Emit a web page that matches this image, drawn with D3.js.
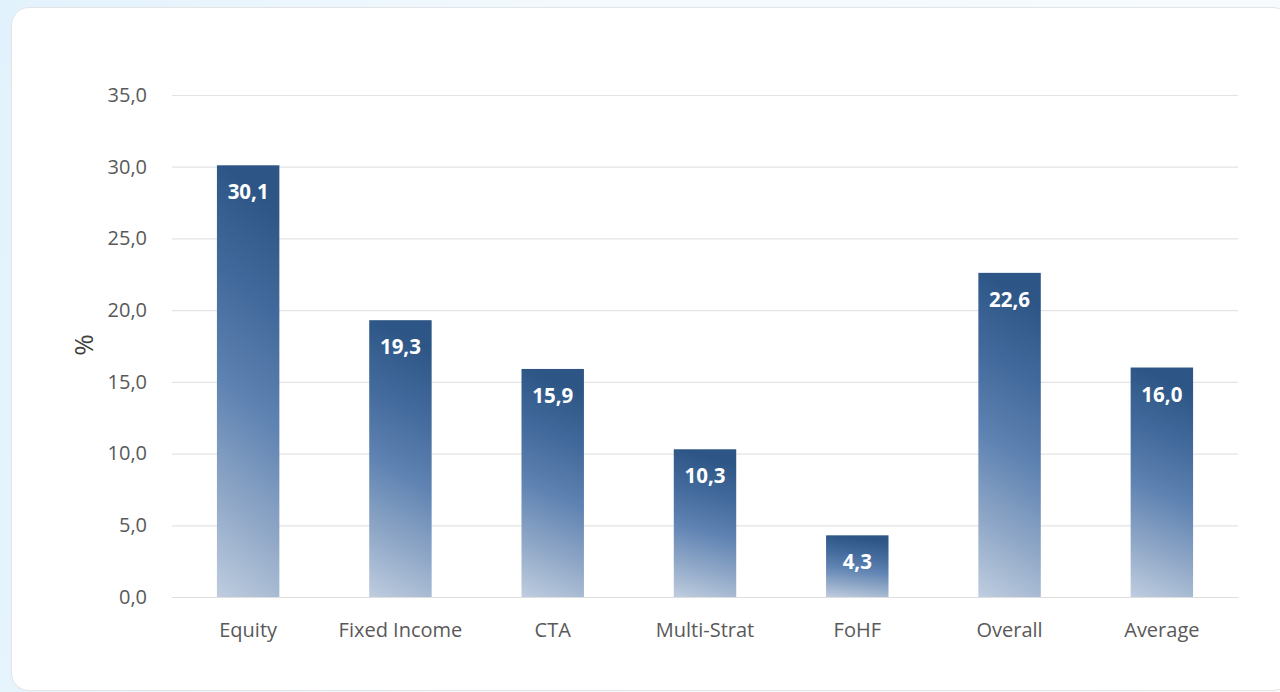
<!DOCTYPE html>
<html>
<head>
<meta charset="utf-8">
<script src="https://cdn.jsdelivr.net/npm/d3@7"></script>
<style>
  html, body { margin: 0; padding: 0; }
  body {
    width: 1280px; height: 692px; overflow: hidden;
    background: linear-gradient(100deg, #e2f2fc 0%, #f3f9fd 40%, #f7fbfe 100%);
  }
  #card {
    position: absolute; left: 11px; top: 7px; width: 1280px; height: 684px;
    background: #fff; border: 1px solid #e2e4e6; border-radius: 18px;
    box-sizing: border-box;
  }
  svg { position: absolute; left: 0; top: 0; }
</style>
</head>
<body>
<div id="card"></div>
<svg id="chart" width="1280" height="692"></svg>
<script>
const categories = ['Equity', 'Fixed Income', 'CTA', 'Multi-Strat', 'FoHF', 'Overall', 'Average'];
const values     = [30.1, 19.3, 15.9, 10.3, 4.3, 22.6, 16.0];
const yTicks     = [0, 5, 10, 15, 20, 25, 30, 35];

const svg = d3.select('#chart');
const fmt = v => d3.format('.1f')(v).replace('.', ',');
const FONT = '"Open Sans", sans-serif';

// ── Scales ──────────────────────────────────────────────────────────────
const x = d3.scaleBand().domain(categories).range([172, 1238])
  .paddingInner(0.59).paddingOuter(0.295);
const y = d3.scaleLinear().domain([0, 35]).range([597, 95]);

// ── Gradient (dark top, light bottom-left) ──────────────────────────────
const grad = svg.append('defs').append('linearGradient')
  .attr('id', 'barGrad').attr('x1', 0).attr('y1', 1).attr('x2', 0.12).attr('y2', 0);
[[0, '#bfcddf'], [0.22, '#94abc9'], [0.5, '#5f83b2'], [0.75, '#436a9c'], [1, '#2d5686']]
  .forEach(([o, c]) => grad.append('stop').attr('offset', o).attr('stop-color', c));

// ── Grid + y axis ───────────────────────────────────────────────────────
const yAxis = svg.append('g').attr('transform', 'translate(172,0)')
  .call(d3.axisLeft(y).tickValues(yTicks).tickFormat(fmt).tickSize(-1066).tickPadding(25));
yAxis.select('.domain').remove();
yAxis.selectAll('.tick line').attr('stroke', '#e3e3e3').attr('stroke-width', 1.2);
yAxis.selectAll('.tick text')
  .attr('fill', '#595959').style('font-family', FONT).style('font-size', '20px');

svg.append('text')
  .attr('transform', 'translate(93,345) rotate(-90)')
  .attr('text-anchor', 'middle')
  .attr('fill', '#404040')
  .style('font-family', FONT).style('font-size', '26px')
  .text('%');

// ── Bars ────────────────────────────────────────────────────────────────
svg.append('g').selectAll('rect').data(values).join('rect')
  .attr('x', (d, i) => x(categories[i]))
  .attr('y', d => y(d))
  .attr('width', x.bandwidth())
  .attr('height', d => y(0) - y(d))
  .attr('fill', 'url(#barGrad)');

svg.append('g').selectAll('text').data(values).join('text')
  .attr('x', (d, i) => x(categories[i]) + x.bandwidth() / 2)
  .attr('y', d => y(d) + 34)
  .attr('text-anchor', 'middle')
  .attr('fill', '#fff')
  .style('font-family', FONT).style('font-size', '20.5px').style('font-weight', 'bold')
  .text(fmt);

// ── X labels ────────────────────────────────────────────────────────────
const xAxis = svg.append('g').attr('transform', 'translate(0,597)')
  .call(d3.axisBottom(x).tickSize(0).tickPadding(26));
xAxis.select('.domain').attr('stroke', '#dedede').attr('stroke-width', 1.2);
xAxis.selectAll('.tick text')
  .attr('fill', '#595959').style('font-family', FONT).style('font-size', '20px');
</script>
</body>
</html>
